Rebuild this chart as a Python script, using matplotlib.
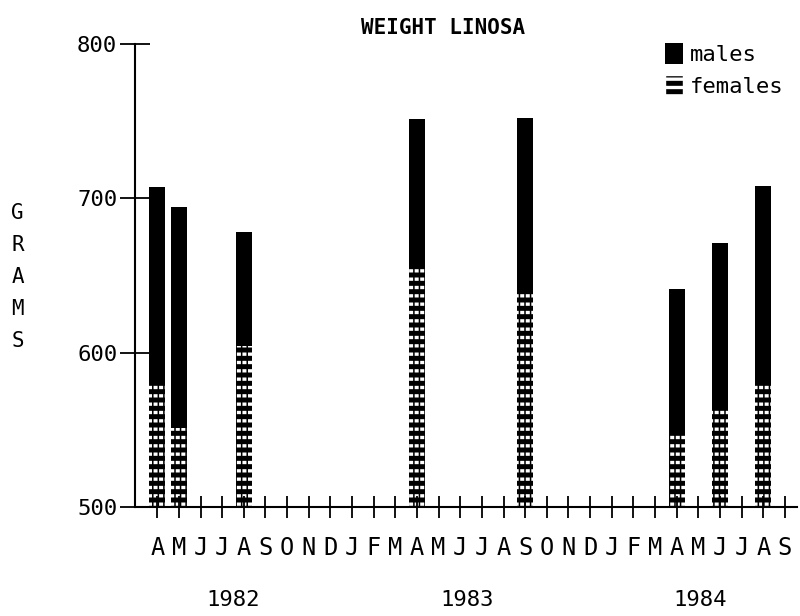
import matplotlib
matplotlib.use("Agg")
import matplotlib.pyplot as plt
from matplotlib.patches import Patch

# month axis, April 1982 .. September 1984
months = list("AMJJASONDJFMAMJJASONDJFMAMJJAS")
years = ["1982", "1983", "1984"]
year_pos = [3.5, 14.3, 25.1]

# months with samples (index into months) and mean weights in grams
sample_idx = [0, 1, 4, 12, 17, 24, 26, 28]
males = [707, 694, 678, 751, 752, 641, 671, 708]
females = [581, 551, 604, 656, 639, 547, 564, 579]

plt.rcParams['font.family'] = ['DejaVu Sans Mono']

fig = plt.figure(figsize=(8, 6.16), dpi=100)
ax = fig.add_axes([0.169, 0.177, 0.827, 0.752])

ax.bar(sample_idx, [m - 500 for m in males], bottom=500, width=0.75,
       color='black', linewidth=0)
# female part: white dashes in rows, broken up by black columns
plt.rcParams['hatch.linewidth'] = 2.4
ax.bar(sample_idx, [f - 500 for f in females], bottom=500, width=0.75,
       color='black', edgecolor='white', hatch='--', linewidth=0)
plt.rcParams['hatch.linewidth'] = 1.1
ax.bar(sample_idx, [f - 500 for f in females], bottom=500, width=0.75,
       facecolor='none', edgecolor='black', hatch='|||', linewidth=0)

ax.set_xlim(-1.02, 29.55)
ax.set_ylim(500, 800)
ax.set_xticks(range(len(months)))
ax.set_xticklabels(months, fontsize=17)
ax.set_yticks([500, 600, 700, 800])
ax.tick_params(axis='x', direction='inout', length=16, width=1.3, pad=13)
ax.tick_params(axis='y', direction='inout', length=22, width=1.3, pad=2, labelsize=16)

for s in ['top', 'right']:
    ax.spines[s].set_visible(False)
for s in ['left', 'bottom']:
    ax.spines[s].set_linewidth(1.5)

for y, p in zip(years, year_pos):
    ax.text(p, -0.2, y, transform=ax.get_xaxis_transform(),
            ha='center', va='center', fontsize=16)

fig.text(0.554, 0.955, "WEIGHT LINOSA", ha='center', va='center',
         fontsize=15, fontweight='bold')
fig.text(0.022, 0.55, "G\nR\nA\nM\nS", ha='center', va='center',
         fontsize=15, linespacing=1.75)

plt.rcParams['hatch.linewidth'] = 2.4
handles = [Patch(facecolor='black', label='males'),
           Patch(facecolor='black', edgecolor='white', hatch='--', label='females')]
ax.legend(handles=handles, loc='upper right', bbox_to_anchor=(1.01, 1.045),
          frameon=False, fontsize=16, handlelength=0.8, handleheight=1.1,
          handletextpad=0.3, labelspacing=0.45)

fig.savefig("out.png", dpi=100)
